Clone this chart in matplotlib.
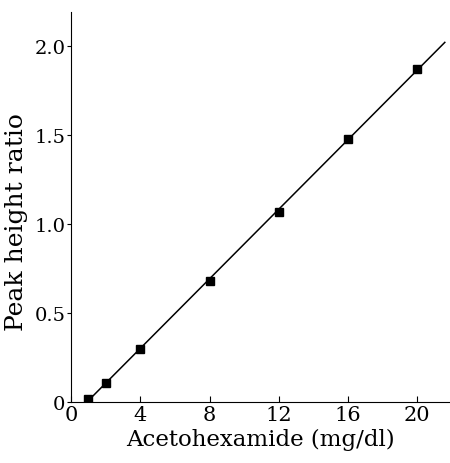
import numpy as np
import matplotlib.pyplot as plt

# stężenie acetoheksamidu (mg/dl) i stosunek wysokości pików
conc = [1, 2, 4, 8, 12, 16, 20]
ratio = [0.02, 0.11, 0.30, 0.68, 1.07, 1.48, 1.87]

x_ticks = [0, 4, 8, 12, 16, 20]
y_ticks = [0, 0.5, 1.0, 1.5, 2.0]
y_labels = ['0', '0.5', '1.0', '1.5', '2.0']

# linia regresji
slope, icpt = np.polyfit(conc, ratio, 1)
xl = np.array([0.8, 21.6])

plt.rcParams['font.family'] = 'DejaVu Serif'

fig = plt.figure(figsize=(4.5, 4.64), dpi=100)
ax = fig.add_axes([0.158, 0.131, 0.842, 0.841])

ax.plot(xl, slope * xl + icpt, color='black', lw=1.1)
ax.plot(conc, ratio, 's', color='black', ms=6)

ax.set_xlim(0, 21.9)
ax.set_ylim(0, 2.19)
ax.set_xticks(x_ticks)
ax.set_yticks(y_ticks)
ax.set_yticklabels(y_labels)
for s in ('top', 'right'):
    ax.spines[s].set_visible(False)
ax.tick_params(axis='x', direction='in', length=4, labelsize=15, pad=2)
ax.tick_params(axis='y', direction='out', length=3, labelsize=14, pad=1)
ax.set_xlabel('Acetohexamide (mg/dl)', fontsize=16.5, labelpad=3)
ax.set_ylabel('Peak height ratio', fontsize=18)
ax.yaxis.set_label_coords(-0.115, 0.465)

fig.savefig('out.png', dpi=100)
